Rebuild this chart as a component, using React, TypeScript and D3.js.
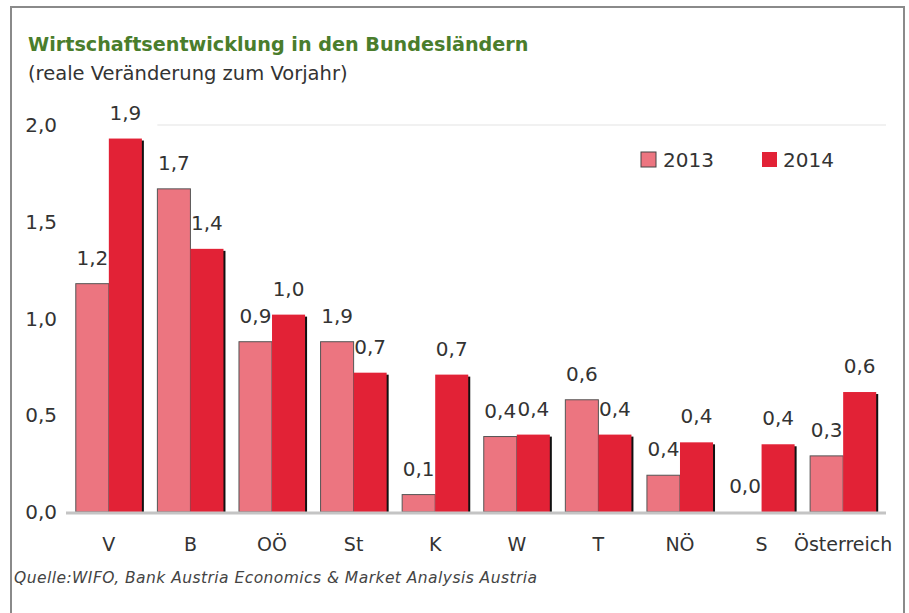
import React from "react";
import * as d3 from "d3";

const categories = ["V", "B", "OÖ", "St", "K", "W", "T", "NÖ", "S", "Österreich"];
const values2013 = [1.18, 1.67, 0.88, 0.88, 0.09, 0.39, 0.58, 0.19, 0.0, 0.29];
const values2014 = [1.93, 1.36, 1.02, 0.72, 0.71, 0.4, 0.4, 0.36, 0.35, 0.62];
const labels2013 = ["1,2", "1,7", "0,9", "1,9", "0,1", "0,4", "0,6", "0,4", "0,0", "0,3"];
const labels2014 = ["1,9", "1,4", "1,0", "0,7", "0,7", "0,4", "0,4", "0,4", "0,4", "0,6"];
const yTicks = [0, 0.5, 1.0, 1.5, 2.0];
const seriesNames = ["2013", "2014"];

const W = 909;
const H = 613;
const C2013 = "#ec7580";
const C2014 = "#e22236";
const FONT = "'DejaVu Sans', Verdana, sans-serif";

export default function App() {
  const x = d3.scaleBand<string>().domain(categories).range([66, 886]).paddingInner(0.19).paddingOuter(0.12);
  const xs = d3.scaleBand<string>().domain(seriesNames).range([0, x.bandwidth()]);
  const y = d3.scaleLinear().domain([0, 2]).range([512, 125]);
  const fmt = (v: number) => d3.format(".1f")(v).replace(".", ",");
  const labelGap = 19;

  return (
    <svg width={W} height={H} style={{ position: "absolute", left: 0, top: 0, background: "#fff" }} fontFamily={FONT}>
      <rect x={11} y={7} width={893} height={H} fill="#fff" stroke="#8a8a8a" strokeWidth={2} />
      <text x={28} y={51} fontSize={19.2} fontWeight="bold" fill="#4a7d2c">Wirtschaftsentwicklung in den Bundesländern</text>
      <text x={28} y={80} fontSize={19.5} fill="#333">(reale Veränderung zum Vorjahr)</text>

      {/* gridline at max */}
      <line x1={x(categories[1])!} x2={886} y1={y(2)} y2={y(2)} stroke="#f1f1f1" strokeWidth={2} />

      {yTicks.map((t) => (
        <text key={t} x={57} y={y(t) + 7} fontSize={20} textAnchor="end" fill="#333">{fmt(t)}</text>
      ))}

      {categories.map((c, i) => {
        const x0 = x(c)!;
        const bw = xs.bandwidth();
        const v1 = values2013[i];
        const v2 = values2014[i];
        const x1 = x0 + xs("2013")!;
        const x2 = x0 + xs("2014")!;
        return (
          <g key={c}>
            {v1 > 0 && (
              <rect x={x1} y={y(v1)} width={bw} height={y(0) - y(v1)} fill={C2013} stroke="#555" strokeWidth={1} />
            )}
            <rect x={x2 + 2} y={y(v2) + 2} width={bw} height={y(0) - y(v2) - 2} fill="#111" />
            <rect x={x2} y={y(v2)} width={bw} height={y(0) - y(v2)} fill={C2014} />
            <text x={x1 + bw / 2} y={y(v1) - labelGap} fontSize={20} textAnchor="middle" fill="#333">{labels2013[i]}</text>
            <text x={x2 + bw / 2} y={y(v2) - labelGap} fontSize={20} textAnchor="middle" fill="#333">{labels2014[i]}</text>
            <text x={x0 + x.bandwidth() / 2} y={551} fontSize={19} textAnchor="middle" fill="#333">{c}</text>
          </g>
        );
      })}

      <line x1={66} x2={886} y1={y(0) + 1} y2={y(0) + 1} stroke="#c4c4c4" strokeWidth={3} />

      {/* legend */}
      <rect x={641} y={152} width={15} height={15} fill={C2013} stroke="#444" strokeWidth={1} />
      <text x={663} y={167} fontSize={20} fill="#333">{seriesNames[0]}</text>
      <rect x={762} y={152} width={15} height={15} fill={C2014} />
      <text x={783} y={167} fontSize={20} fill="#333">{seriesNames[1]}</text>

      <text x={14} y={583} fontSize={15.5} letterSpacing={0.45} fontStyle="italic" fill="#444">Quelle:WIFO, Bank Austria Economics &amp; Market Analysis Austria</text>
    </svg>
  );
}
